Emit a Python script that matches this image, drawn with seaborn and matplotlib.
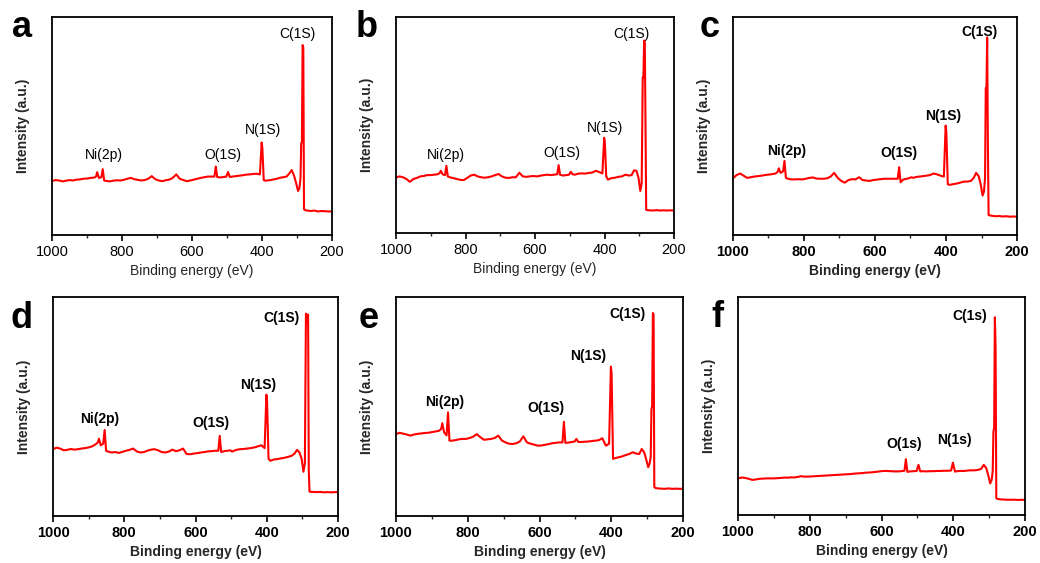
import matplotlib
matplotlib.use("Agg")
import matplotlib.pyplot as plt
from matplotlib.ticker import MultipleLocator
import seaborn as sns
import numpy as np

# ---------------- data ----------------
energy = [1000, 990, 980, 970, 960, 950, 940, 930, 920, 910,
          900, 890, 880, 874, 871, 866, 859, 855, 851, 845,
          835, 825, 815, 805, 795, 785, 775, 765, 755, 745,
          735, 725, 715, 705, 695, 685, 675, 665, 655, 645,
          635, 625, 615, 605, 595, 585, 575, 565, 555, 545,
          536, 532, 528, 520, 510, 502, 497, 492, 485, 475,
          465, 455, 445, 435, 425, 415, 406, 401, 399, 395,
          390, 380, 370, 360, 350, 340, 330, 322, 315, 308,
          302, 297, 293, 290, 288, 286, 284, 282, 280, 277,
          270, 260, 250, 240, 230, 220, 210, 200]

intensity_a = [0.247, 0.252, 0.250, 0.246, 0.249, 0.252, 0.250, 0.254, 0.255, 0.258,
               0.259, 0.262, 0.263, 0.268, 0.288, 0.262, 0.265, 0.302, 0.250, 0.248,
               0.246, 0.249, 0.251, 0.250, 0.253, 0.258, 0.262, 0.256, 0.253, 0.250,
               0.252, 0.258, 0.270, 0.256, 0.250, 0.247, 0.251, 0.254, 0.262, 0.278,
               0.258, 0.252, 0.247, 0.250, 0.254, 0.258, 0.262, 0.265, 0.268, 0.268,
               0.268, 0.314, 0.266, 0.264, 0.266, 0.268, 0.289, 0.266, 0.268, 0.270,
               0.272, 0.274, 0.277, 0.278, 0.280, 0.281, 0.278, 0.424, 0.400, 0.252,
               0.249, 0.251, 0.254, 0.257, 0.262, 0.265, 0.268, 0.282, 0.298, 0.270,
               0.235, 0.202, 0.215, 0.262, 0.420, 0.425, 0.871, 0.860, 0.118, 0.114,
               0.112, 0.110, 0.112, 0.108, 0.110, 0.109, 0.108, 0.108]

intensity_b = [0.257, 0.262, 0.258, 0.250, 0.237, 0.250, 0.255, 0.262, 0.264, 0.268,
               0.268, 0.270, 0.272, 0.278, 0.288, 0.272, 0.268, 0.311, 0.262, 0.258,
               0.254, 0.250, 0.246, 0.245, 0.255, 0.266, 0.270, 0.262, 0.258, 0.256,
               0.258, 0.262, 0.268, 0.273, 0.262, 0.256, 0.255, 0.258, 0.258, 0.279,
               0.262, 0.260, 0.262, 0.264, 0.262, 0.265, 0.268, 0.270, 0.268, 0.270,
               0.272, 0.314, 0.270, 0.266, 0.268, 0.270, 0.283, 0.272, 0.270, 0.275,
               0.276, 0.275, 0.278, 0.280, 0.288, 0.282, 0.276, 0.441, 0.420, 0.262,
               0.247, 0.254, 0.256, 0.260, 0.262, 0.270, 0.266, 0.268, 0.290, 0.288,
               0.255, 0.195, 0.230, 0.720, 0.720, 0.891, 0.880, 0.500, 0.107, 0.106,
               0.105, 0.104, 0.106, 0.104, 0.105, 0.104, 0.105, 0.104]

intensity_c = [0.260, 0.275, 0.282, 0.272, 0.262, 0.265, 0.268, 0.270, 0.272, 0.275,
               0.277, 0.279, 0.282, 0.290, 0.306, 0.285, 0.292, 0.340, 0.262, 0.258,
               0.255, 0.255, 0.256, 0.255, 0.258, 0.262, 0.264, 0.259, 0.258, 0.258,
               0.260, 0.268, 0.285, 0.262, 0.248, 0.240, 0.252, 0.256, 0.255, 0.265,
               0.252, 0.250, 0.248, 0.252, 0.254, 0.256, 0.258, 0.258, 0.258, 0.258,
               0.258, 0.311, 0.242, 0.255, 0.258, 0.262, 0.265, 0.262, 0.266, 0.268,
               0.270, 0.272, 0.275, 0.282, 0.278, 0.272, 0.268, 0.502, 0.470, 0.233,
               0.230, 0.233, 0.236, 0.240, 0.245, 0.245, 0.248, 0.262, 0.285, 0.270,
               0.230, 0.181, 0.200, 0.260, 0.674, 0.680, 0.906, 0.410, 0.092, 0.090,
               0.088, 0.086, 0.087, 0.085, 0.086, 0.084, 0.085, 0.084]

intensity_d = [0.305, 0.312, 0.308, 0.300, 0.302, 0.306, 0.303, 0.305, 0.308, 0.310,
               0.313, 0.318, 0.328, 0.336, 0.353, 0.323, 0.330, 0.393, 0.298, 0.294,
               0.290, 0.292, 0.288, 0.293, 0.298, 0.302, 0.308, 0.295, 0.290, 0.292,
               0.298, 0.303, 0.305, 0.300, 0.292, 0.290, 0.294, 0.303, 0.296, 0.300,
               0.308, 0.283, 0.282, 0.285, 0.287, 0.290, 0.292, 0.295, 0.296, 0.298,
               0.298, 0.366, 0.292, 0.296, 0.298, 0.300, 0.294, 0.298, 0.302, 0.305,
               0.306, 0.308, 0.310, 0.313, 0.318, 0.323, 0.310, 0.554, 0.520, 0.262,
               0.252, 0.258, 0.260, 0.263, 0.266, 0.270, 0.275, 0.285, 0.302, 0.290,
               0.260, 0.202, 0.240, 0.924, 0.900, 0.880, 0.920, 0.207, 0.112, 0.110,
               0.110, 0.109, 0.110, 0.108, 0.109, 0.108, 0.109, 0.109]

intensity_e = [0.374, 0.380, 0.376, 0.372, 0.367, 0.372, 0.375, 0.377, 0.379, 0.380,
               0.383, 0.386, 0.389, 0.398, 0.424, 0.382, 0.368, 0.473, 0.344, 0.344,
               0.346, 0.350, 0.352, 0.352, 0.356, 0.362, 0.374, 0.360, 0.348, 0.350,
               0.352, 0.356, 0.367, 0.345, 0.336, 0.330, 0.329, 0.332, 0.340, 0.364,
               0.336, 0.330, 0.326, 0.321, 0.322, 0.325, 0.328, 0.332, 0.334, 0.336,
               0.336, 0.430, 0.334, 0.335, 0.338, 0.340, 0.352, 0.338, 0.338, 0.339,
               0.340, 0.342, 0.344, 0.346, 0.355, 0.321, 0.330, 0.682, 0.650, 0.261,
               0.264, 0.268, 0.272, 0.278, 0.283, 0.291, 0.285, 0.283, 0.306, 0.290,
               0.255, 0.223, 0.240, 0.270, 0.488, 0.500, 0.927, 0.920, 0.132, 0.128,
               0.126, 0.125, 0.124, 0.126, 0.124, 0.125, 0.124, 0.124]

intensity_f = [0.168, 0.172, 0.170, 0.166, 0.161, 0.163, 0.166, 0.167, 0.168, 0.168,
               0.168, 0.169, 0.170, 0.171, 0.172, 0.171, 0.172, 0.172, 0.173, 0.172,
               0.174, 0.178, 0.176, 0.176, 0.177, 0.178, 0.179, 0.180, 0.181, 0.182,
               0.183, 0.184, 0.185, 0.186, 0.187, 0.188, 0.190, 0.191, 0.192, 0.194,
               0.195, 0.196, 0.198, 0.200, 0.202, 0.202, 0.201, 0.200, 0.200, 0.201,
               0.203, 0.256, 0.198, 0.200, 0.201, 0.202, 0.230, 0.200, 0.201, 0.200,
               0.201, 0.201, 0.202, 0.202, 0.203, 0.203, 0.204, 0.240, 0.225, 0.199,
               0.201, 0.202, 0.202, 0.204, 0.205, 0.205, 0.207, 0.212, 0.230, 0.215,
               0.180, 0.145, 0.160, 0.200, 0.383, 0.400, 0.907, 0.773, 0.077, 0.074,
               0.072, 0.071, 0.070, 0.070, 0.070, 0.069, 0.070, 0.069]

panel_letters = ["a", "b", "c", "d", "e", "f"]
x_ticks = [1000, 800, 600, 400, 200]
x_label = "Binding energy (eV)"
y_label = "Intensity (a.u.)"

# peak labels: (text, energy, relative intensity)
labels_a = [("C(1S)", 300, 0.92), ("N(1S)", 396, 0.48), ("O(1S)", 512, 0.367), ("Ni(2p)", 852, 0.367)]
labels_b = [("C(1S)", 324, 0.923), ("N(1S)", 399, 0.487), ("O(1S)", 523, 0.372), ("Ni(2p)", 856, 0.36)]
labels_c = [("C(1S)", 306, 0.931), ("N(1S)", 407, 0.544), ("O(1S)", 533, 0.375), ("Ni(2p)", 848, 0.386)]
labels_d = [("C(1S)", 359, 0.902), ("N(1S)", 425, 0.60), ("O(1S)", 556, 0.423), ("Ni(2p)", 869, 0.444)]
labels_e = [("C(1S)", 356, 0.923), ("N(1S)", 465, 0.73), ("O(1S)", 582, 0.495), ("Ni(2p)", 864, 0.521)]
labels_f = [("C(1s)", 353, 0.911), ("N(1s)", 398, 0.343), ("O(1s)", 538, 0.325)]

series = [intensity_a, intensity_b, intensity_c, intensity_d, intensity_e, intensity_f]
peak_labels = [labels_a, labels_b, labels_c, labels_d, labels_e, labels_f]

# ---------------- layout ----------------
W, H = 1040, 563
# axes boxes in pixels: left, top, right, bottom
boxes = [(52, 17, 332, 235), (396, 17, 674, 233), (733, 17, 1017, 235),
         (53, 297, 338, 516), (396, 297, 683, 516), (738, 297, 1025, 515)]
letter_pos = [(22, 37), (367, 37), (710, 37), (22, 328), (369, 328), (717, 327)]
bold_flags = [False, False, True, True, True, True]

sns.set_style("ticks")
plt.rcParams["font.family"] = ["Liberation Sans", "DejaVu Sans"]

fig = plt.figure(figsize=(W / 100, H / 100), dpi=100)

for i in range(6):
    l, t, r, b = boxes[i]
    ax = fig.add_axes([l / W, (H - b) / H, (r - l) / W, (b - t) / H])
    sns.lineplot(x=energy, y=series[i], ax=ax, color="#ff0000", linewidth=1.5,
                 estimator=None, sort=False)
    ax.set_xlim(1000, 200)
    ax.set_ylim(0, 1)
    ax.set_yticks([])
    bold = bold_flags[i]
    fw = "bold" if bold else "normal"
    ax.set_xticks(x_ticks)
    ax.set_xticklabels([str(v) for v in x_ticks], fontsize=10.5, fontweight=fw)
    ax.xaxis.set_minor_locator(MultipleLocator(100))
    ax.tick_params(axis="x", which="major", direction="out", length=4, width=1.2,
                   pad=3, colors="black")
    ax.tick_params(axis="x", which="minor", direction="out", length=2.5, width=1.0)
    for sp in ax.spines.values():
        sp.set_visible(True)
        sp.set_linewidth(1.3)
        sp.set_color("black")
    ax.set_xlabel(x_label, fontsize=10, fontweight=fw, labelpad=4)
    ax.set_ylabel(y_label, fontsize=10, fontweight="bold")
    ax.yaxis.set_label_coords(-22 / (r - l), 0.5)
    for txt, ex, ey in peak_labels[i]:
        ax.text(ex, ey, txt, ha="center", va="center",
                fontsize=10, fontweight=fw, color="black")
    lx, ly = letter_pos[i]
    fig.text(lx / W, (H - ly) / H, panel_letters[i], ha="center", va="baseline",
             fontsize=26, fontweight="bold", color="black")

fig.savefig("out.png", dpi=100, facecolor="white")
